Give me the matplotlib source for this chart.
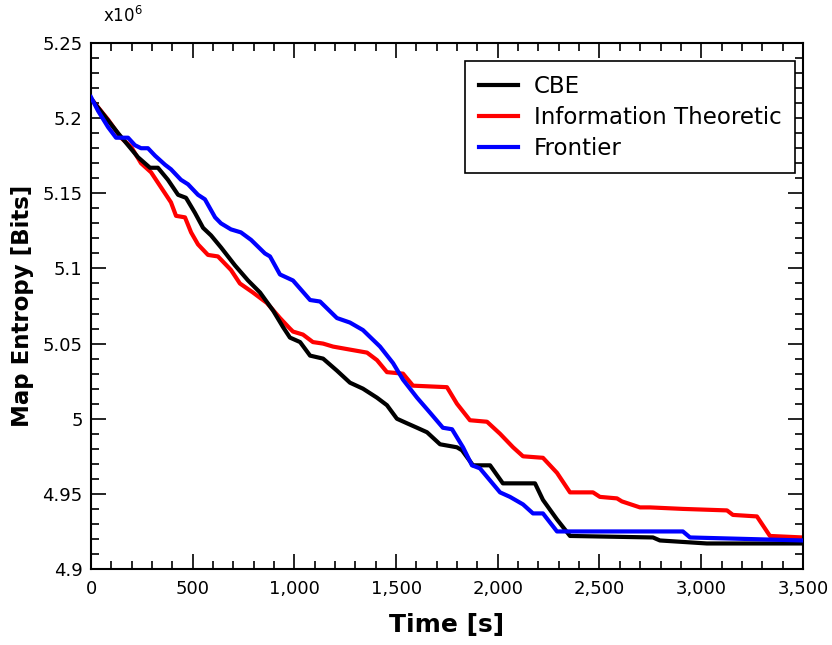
import numpy as np
import matplotlib.pyplot as plt
from matplotlib.ticker import MultipleLocator, FuncFormatter

plt.rcParams['font.family'] = 'DejaVu Sans'
plt.rcParams['font.size'] = 13

# --- data (entropy in units of 1e6 bits) ---
cbe_t = [0, 133, 231, 290, 329, 378, 428, 467, 511, 551, 590, 639, 708, 772, 831, 895,
         944, 978, 1028, 1077, 1141, 1209, 1273, 1337, 1406, 1455, 1504, 1553, 1603, 1652,
         1716, 1799, 1824, 1878, 1962, 2025, 2183, 2222, 2291, 2355, 2763, 2797, 3028, 3500]
cbe_h = [5.213, 5.190, 5.174, 5.167, 5.167, 5.159, 5.149, 5.147, 5.137, 5.127, 5.122, 5.114,
         5.102, 5.092, 5.084, 5.072, 5.061, 5.054, 5.051, 5.042, 5.040, 5.032, 5.024, 5.020,
         5.014, 5.009, 5.000, 4.997, 4.994, 4.991, 4.983, 4.981, 4.979, 4.969, 4.969, 4.957,
         4.957, 4.946, 4.933, 4.922, 4.921, 4.919, 4.917, 4.917]

info_t = [0, 84, 147, 197, 246, 295, 344, 393, 418, 462, 492, 526, 575, 624, 688, 732, 796,
          865, 929, 978, 993, 1042, 1091, 1141, 1190, 1273, 1357, 1406, 1455, 1534, 1583,
          1750, 1799, 1863, 1947, 2011, 2075, 2124, 2222, 2291, 2355, 2468, 2502, 2586, 2610,
          2699, 2748, 2910, 3127, 3156, 3274, 3338, 3500]
info_h = [5.213, 5.199, 5.187, 5.181, 5.170, 5.164, 5.154, 5.144, 5.135, 5.134, 5.124, 5.116,
          5.109, 5.108, 5.099, 5.090, 5.084, 5.077, 5.067, 5.060, 5.058, 5.056, 5.051, 5.050,
          5.048, 5.046, 5.044, 5.039, 5.031, 5.030, 5.022, 5.021, 5.010, 4.999, 4.998, 4.990,
          4.981, 4.975, 4.974, 4.964, 4.951, 4.951, 4.948, 4.947, 4.945, 4.941, 4.941, 4.940,
          4.939, 4.936, 4.935, 4.922, 4.921]

fr_t = [0, 34, 84, 123, 182, 216, 246, 280, 315, 364, 393, 442, 477, 526, 560, 610, 639, 688,
        737, 787, 855, 880, 929, 993, 1077, 1126, 1209, 1273, 1337, 1421, 1485, 1534, 1603,
        1667, 1730, 1775, 1829, 1873, 1912, 2011, 2060, 2124, 2173, 2222, 2291, 2488, 2910,
        2945, 3500]
fr_h = [5.214, 5.205, 5.194, 5.187, 5.187, 5.182, 5.180, 5.180, 5.175, 5.169, 5.166, 5.159,
        5.156, 5.149, 5.146, 5.134, 5.130, 5.126, 5.124, 5.119, 5.110, 5.108, 5.096, 5.092,
        5.079, 5.078, 5.067, 5.064, 5.059, 5.048, 5.037, 5.026, 5.014, 5.004, 4.994, 4.993,
        4.981, 4.969, 4.967, 4.951, 4.948, 4.943, 4.937, 4.937, 4.925, 4.925, 4.925, 4.921,
        4.919]

fig = plt.figure(figsize=(8.32, 6.45), dpi=100)
ax = fig.add_axes([0.1094, 0.1178, 0.8556, 0.8155])

ax.plot(cbe_t, cbe_h, color='black', lw=3, label='CBE', zorder=3)
ax.plot(info_t, info_h, color='red', lw=3, label='Information Theoretic', zorder=2)
ax.plot(fr_t, fr_h, color='blue', lw=3, label='Frontier', zorder=4)

ax.set_xlim(0, 3500)
ax.set_ylim(4.9, 5.25)
ax.xaxis.set_major_locator(MultipleLocator(500))
ax.xaxis.set_minor_locator(MultipleLocator(100))
ax.yaxis.set_major_locator(MultipleLocator(0.05))
ax.yaxis.set_minor_locator(MultipleLocator(0.01))
ax.xaxis.set_major_formatter(FuncFormatter(lambda v, p: f"{int(round(v)):,}"))
ax.yaxis.set_major_formatter(FuncFormatter(lambda v, p: f"{round(v, 2):g}"))

ax.tick_params(which='both', direction='in', top=True, right=True, width=1.2, labelsize=13)
ax.tick_params(which='major', length=11, pad=6)
ax.tick_params(which='minor', length=6)
ax.tick_params(axis='x', which='major', pad=8)
for s in ax.spines.values():
    s.set_linewidth(1.5)

ax.set_xlabel('Time [s]', fontsize=18, fontweight='bold', labelpad=11)
ax.set_ylabel('Map Entropy [Bits]', fontsize=16.5, fontweight='bold', labelpad=6)
fig.text(0.124, 0.975, 'x10$^6$', fontsize=12, ha='left', va='center')

leg = ax.legend(loc='upper right', bbox_to_anchor=(0.989, 0.966), fontsize=16.5,
                frameon=True, fancybox=False, edgecolor='black', framealpha=1,
                borderpad=0.6, labelspacing=0.35, handlelength=1.7, handletextpad=0.7,
                borderaxespad=0)
leg.get_frame().set_linewidth(1.2)

fig.savefig('out.png', dpi=100)
